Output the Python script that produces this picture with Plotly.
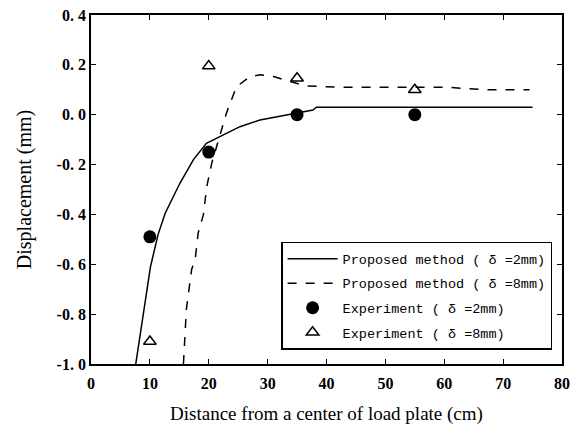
import plotly.graph_objects as go

# Proposed method (delta = 2 mm) curve
sol_x = [7.6, 8.9, 10.1, 11.4, 12.6, 15.1, 17.4, 19.6, 21.9, 25.3, 28.7, 31.5, 34.9, 37.7, 38.3, 75.0]
sol_y = [-1.0, -0.80, -0.61, -0.48, -0.395, -0.275, -0.18, -0.115, -0.088, -0.048, -0.021, -0.008, 0.005, 0.019, 0.03, 0.03]

# Proposed method (delta = 8 mm) curve
dash_x = [15.7, 16.2, 17.1, 17.7, 18.2, 19.1, 19.4, 19.65, 20.5, 21.9, 23.0, 24.7, 27.0, 28.7, 31.0, 34.3, 36.6, 43.4, 53.6, 60.4, 67.2, 74.5]
dash_y = [-1.0, -0.78, -0.62, -0.58, -0.475, -0.40, -0.34, -0.29, -0.195, -0.088, 0.006, 0.112, 0.153, 0.16, 0.153, 0.13, 0.115, 0.11, 0.11, 0.11, 0.10, 0.10]

# Experiments
exp2_x = [10, 20, 35, 55]
exp2_y = [-0.49, -0.15, 0.0, 0.0]
exp8_x = [10, 20, 35, 55]
exp8_y = [-0.91, 0.195, 0.146, 0.10]

y_ticks = [-1.0, -0.8, -0.6, -0.4, -0.2, 0.0, 0.2, 0.4]
y_tick_text = ["-1.\u00a00", "-0.\u00a08", "-0.\u00a06", "-0.\u00a04", "-0.\u00a02", "0.\u00a00", "0.\u00a02", "0.\u00a04"]
x_ticks = [0, 10, 20, 30, 40, 50, 60, 70, 80]

fig = go.Figure()
fig.add_trace(go.Scatter(x=sol_x, y=sol_y, mode="lines", line=dict(color="black", width=1.5),
                         name="Proposed method ( δ =2mm)", legendgroup="a"))
fig.add_trace(go.Scatter(x=dash_x, y=dash_y, mode="lines", line=dict(color="black", width=1.5, dash="dash"),
                         name="Proposed method ( δ =8mm)", legendgroup="b"))
fig.add_trace(go.Scatter(x=exp2_x, y=exp2_y, mode="markers",
                         marker=dict(symbol="circle", size=13, color="black"),
                         name="Experiment ( δ =2mm)", legendgroup="c"))
fig.add_trace(go.Scatter(x=exp8_x, y=exp8_y, mode="markers",
                         marker=dict(symbol="triangle-up-open", size=11, color="black", line=dict(width=1.5)),
                         name="Experiment ( δ =8mm)", legendgroup="d"))

axis_common = dict(showline=True, linecolor="black", linewidth=1.8, mirror="ticks",
                   ticks="inside", ticklen=5, tickcolor="black", showgrid=False, zeroline=False,
                   automargin=False,
                   tickfont=dict(family="Liberation Serif", size=16, color="black", weight="bold"))

fig.update_xaxes(range=[0, 80], tickvals=x_ticks, ticklabelstandoff=4,
                 title=dict(text="Distance from a center of load plate (cm)",
                            font=dict(family="Liberation Serif", size=19, color="black"), standoff=16),
                 **axis_common)
fig.update_yaxes(range=[-1.0, 0.4], tickvals=y_ticks, ticktext=y_tick_text,
                 title=dict(text="Displacement (mm)",
                            font=dict(family="Liberation Serif", size=20, color="black"), standoff=20),
                 **axis_common)

fig.update_layout(
    width=570, height=429,
    margin=dict(l=91, r=8, t=15, b=65),
    paper_bgcolor="white", plot_bgcolor="white",
    legend=dict(x=0.979, y=0.35, xanchor="right", yanchor="top",
                bordercolor="black", borderwidth=1.5, bgcolor="white",
                font=dict(family="Liberation Mono", size=13.5, color="black"),
                itemwidth=50, tracegroupgap=4),
)

fig.write_html("out.html")
